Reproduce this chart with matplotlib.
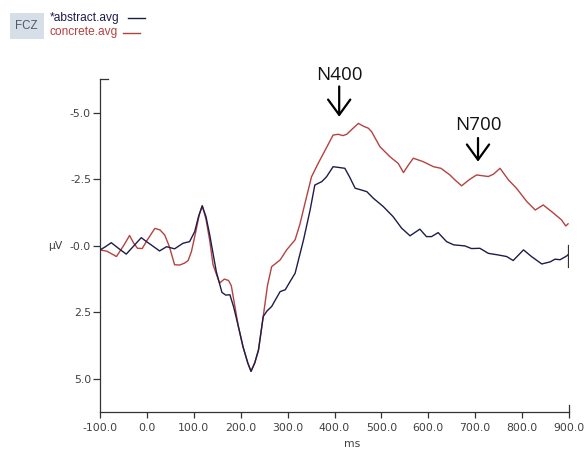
import matplotlib
matplotlib.use("Agg")
import matplotlib.pyplot as plt
from matplotlib.patches import Rectangle
from matplotlib.lines import Line2D

# ---------------- data ----------------
abstract_ms = [-100, -90, -76, -60, -44, -28, -12, 0, 9, 27, 42, 59, 77, 91, 102, 110, 118, 126,
               134, 148, 160, 168, 177, 185, 195, 205, 215, 222, 230, 238, 248, 256, 266, 284,
               295, 305, 316, 334, 348, 358, 373, 383, 397, 410, 422, 432, 444, 458, 469, 483,
               504, 525, 543, 561, 582, 596, 607, 621, 639, 654, 678, 692, 710, 728, 749, 767,
               781, 803, 820, 842, 860, 870, 881, 895, 900]
abstract_uv = [0.15, 0.05, -0.12, 0.10, 0.31, 0.00, -0.31, -0.15, -0.04, 0.19, 0.03, 0.11, -0.10,
               -0.16, -0.54, -1.10, -1.50, -1.10, -0.41, 0.97, 1.75, 1.85, 1.84, 2.30, 3.03, 3.80,
               4.40, 4.72, 4.40, 3.91, 2.66, 2.45, 2.28, 1.72, 1.65, 1.35, 1.03, -0.23, -1.35,
               -2.29, -2.42, -2.60, -2.98, -2.95, -2.92, -2.60, -2.17, -2.10, -2.04, -1.79, -1.48,
               -1.10, -0.67, -0.38, -0.63, -0.35, -0.35, -0.50, -0.16, -0.04, 0.00, 0.10, 0.09,
               0.28, 0.34, 0.40, 0.55, 0.15, 0.40, 0.68, 0.60, 0.50, 0.52, 0.38, 0.30]

concrete_ms = [-100, -85, -65, -50, -37, -28, -20, -10, 0, 17, 28, 38, 48, 59, 70, 80, 88, 95,
               105, 112, 118, 126, 134, 141, 155, 165, 174, 180, 195, 205, 215, 222, 230, 238,
               248, 257, 266, 284, 298, 316, 326, 337, 351, 365, 380, 397, 408, 418, 426, 438,
               451, 462, 472, 479, 497, 518, 536, 547, 556, 568, 589, 611, 627, 646, 657, 671,
               688, 703, 728, 739, 753, 771, 788, 810, 828, 845, 863, 884, 893, 898]
concrete_uv = [0.15, 0.20, 0.40, 0.00, -0.39, -0.10, 0.09, 0.10, -0.20, -0.66, -0.60, -0.41, 0.03,
               0.71, 0.72, 0.65, 0.55, 0.21, -0.60, -1.20, -1.52, -1.00, -0.20, 0.71, 1.40, 1.25,
               1.30, 1.50, 3.03, 3.80, 4.40, 4.72, 4.40, 3.91, 2.66, 1.50, 0.78, 0.53, 0.15,
               -0.23, -0.80, -1.60, -2.60, -3.10, -3.60, -4.17, -4.20, -4.15, -4.20, -4.40,
               -4.61, -4.50, -4.43, -4.30, -3.73, -3.36, -3.10, -2.76, -3.00, -3.30, -3.17,
               -2.98, -2.92, -2.67, -2.48, -2.26, -2.50, -2.67, -2.61, -2.70, -2.92, -2.48,
               -2.17, -1.67, -1.35, -1.54, -1.29, -0.98, -0.75, -0.83]

series_names = ["*abstract.avg", "concrete.avg"]
channel_name = "FCZ"
x_ticks = [-100, 0, 100, 200, 300, 400, 500, 600, 700, 800, 900]
x_tick_labels = ["-100.0", "0.0", "100.0", "200.0", "300.0", "400.0", "500.0",
                 "600.0", "700.0", "800.0", "900.0"]
y_ticks = [-5, -2.5, 0, 2.5, 5]
y_tick_labels = ["-5.0", "-2.5", "-0.0", "2.5", "5.0"]
x_label = "ms"
y_label = "µV"

# component annotations: (label, latency ms, arrow tail uV, arrow tip uV, text uV)
components = [("N400", 410, -6.0, -4.86, -6.43),
              ("N700", 706, -4.06, -3.17, -4.55)]
cursor_ms = 898
cursor_range = [-0.05, 0.8]

# ---------------- style ----------------
BLUE = "#1d1d4a"
RED = "#b4423f"
AX = "#333333"
TXT = "#404040"

W, H = 585, 449
fig = plt.figure(figsize=(W / 100, H / 100), dpi=100)
fig.patch.set_facecolor("white")

ax_l, ax_r, ax_t, ax_b = 100, 569, 79, 412
ax = fig.add_axes([ax_l / W, 1 - ax_b / H, (ax_r - ax_l) / W, (ax_b - ax_t) / H])

ax.plot(abstract_ms, abstract_uv, color=BLUE, lw=1.0, zorder=3)
ax.plot(concrete_ms, concrete_uv, color=RED, lw=1.0, zorder=2)
ax.plot([cursor_ms, cursor_ms], cursor_range, color=AX, lw=0.9, zorder=4)

ax.set_xlim(-100, 900)
ax.set_ylim(6.25, -6.28)

for s in ["top", "right"]:
    ax.spines[s].set_visible(False)
for s in ["left", "bottom"]:
    ax.spines[s].set_color(AX)
    ax.spines[s].set_linewidth(0.9)

ax.set_xticks(x_ticks)
ax.set_xticklabels(x_tick_labels)
ax.set_yticks(y_ticks)
ax.set_yticklabels(y_tick_labels)
ax.tick_params(axis="x", direction="out", length=4.3, width=0.9, color=AX, pad=3.6,
               labelsize=7.8, labelcolor=TXT)
ax.tick_params(axis="y", direction="out", length=5, width=0.9, color=AX, pad=1.5,
               labelsize=7.8, labelcolor=TXT)
for lab in ax.get_xticklabels() + ax.get_yticklabels():
    lab.set_family("DejaVu Sans")

# top cap on y axis and extended last x tick
ax.add_line(Line2D([0, 8 / (ax_r - ax_l)], [1, 1], transform=ax.transAxes,
                   color=AX, lw=0.9, clip_on=False))
ax.add_line(Line2D([1, 1], [0, 7 / (ax_b - ax_t)], transform=ax.transAxes,
                   color=AX, lw=0.9, clip_on=False))

# axis labels
fig.text(55 / W, 1 - 246 / H, y_label, ha="center", va="center", fontsize=7.8,
         color=TXT, family="DejaVu Sans")
fig.text(352 / W, 1 - 444 / H, x_label, ha="center", va="center", fontsize=7.8,
         color=TXT, family="DejaVu Sans")

# component annotations
for name, lat, tail, tip, ty in components:
    ax.annotate("", xy=(lat, tip), xytext=(lat, tail), annotation_clip=False,
                arrowprops=dict(arrowstyle="->,head_length=0.55,head_width=0.4",
                                color="black", lw=1.6, mutation_scale=20,
                                shrinkA=0, shrinkB=0))
    ax.text(lat, ty, name, ha="center", va="center", fontsize=13.5,
            family="Open Sans", color="#111111", clip_on=False)

# legend block
fig.patches.append(Rectangle((9.5 / W, 1 - 38.5 / H), 34 / W, 25 / H,
                             transform=fig.transFigure, facecolor="#d6dee7",
                             edgecolor="none"))
fig.text(26.5 / W, 1 - 26 / H, channel_name, ha="center", va="center",
         fontsize=8.3, color="#4f5868", family="Liberation Sans")
fig.text(50 / W, 1 - 17.5 / H, series_names[0], ha="left", va="center",
         fontsize=8.6, color=BLUE, family="Liberation Sans")
fig.text(50 / W, 1 - 32.5 / H, series_names[1], ha="left", va="center",
         fontsize=8.6, color=RED, family="Liberation Sans")
fig.lines.append(Line2D([128 / W, 145 / W], [1 - 17.5 / H, 1 - 17.5 / H],
                        transform=fig.transFigure, color=BLUE, lw=1.0))
fig.lines.append(Line2D([123 / W, 140 / W], [1 - 33 / H, 1 - 33 / H],
                        transform=fig.transFigure, color=RED, lw=1.0))

fig.savefig("out.png", dpi=100, facecolor="white")
